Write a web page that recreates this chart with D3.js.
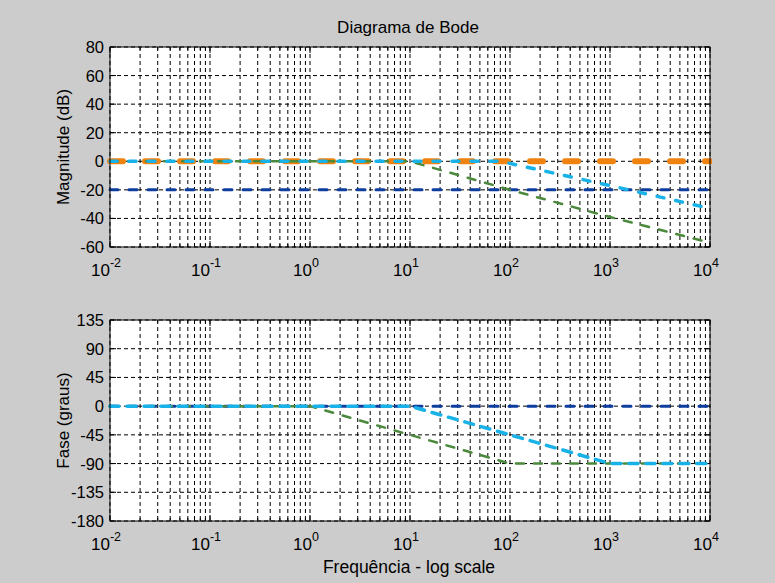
<!DOCTYPE html>
<html>
<head>
<meta charset="utf-8">
<script src="https://cdn.jsdelivr.net/npm/d3@7"></script>
<style>
  body { margin: 0; background: #cccccc; }
  text { font-family: "Liberation Sans", Arial, sans-serif; fill: #000; }
</style>
</head>
<body>
<svg width="775" height="583"></svg>
<script>
// frequency decades shown on the x axis
const decades = [-2, -1, 0, 1, 2, 3, 4];
const magTicks = [-60, -40, -20, 0, 20, 40, 60, 80];
const phaseTicks = [-180, -135, -90, -45, 0, 45, 90, 135];

// asymptotic bode curves, [freq, value]
const magOrange = [[0.01, 0], [10000, 0]];
const magDarkBlue = [[0.01, -20], [10000, -20]];
const magGreen = [[0.01, 0], [10, 0], [100, -20], [1000, -39], [10000, -57]];
const magLightBlue = [[0.01, 0], [80, 0], [1000, -17], [10000, -33]];

const phaseGreen = [[0.01, 0], [1, 0], [100, -90], [10000, -90]];
const phaseLightBlue = [[0.01, 0], [10, 0], [1000, -90], [10000, -90]];
const phaseDarkBlue = [[0.01, 0], [10000, 0]];

const svg = d3.select('svg');
const x = d3.scaleLog().domain([1e-2, 1e4]).range([110, 710]);

const minorTicks = [];
decades.slice(0, -1).forEach(e => {
  for (let k = 2; k <= 9; k++) minorTicks.push(k * Math.pow(10, e));
});

function panel(y, yTicks, series, yLabel) {
  const [y0, y1] = y.range();
  const g = svg.append('g');
  const clipId = 'clip' + y0;
  svg.append('clipPath').attr('id', clipId)
    .append('rect').attr('x', 106).attr('y', y1 - 4).attr('width', 606).attr('height', y0 - y1 + 8);

  g.append('rect')
    .attr('x', 110).attr('y', y1)
    .attr('width', 600).attr('height', y0 - y1)
    .attr('fill', '#fff');

  // grid
  const allX = decades.map(e => Math.pow(10, e)).concat(minorTicks);
  g.selectAll('.vgrid')
    .data(allX)
    .enter().append('line')
      .attr('x1', d => x(d)).attr('x2', d => x(d))
      .attr('y1', y1).attr('y2', y0)
      .attr('stroke', '#000')
      .attr('stroke-width', 1)
      .attr('stroke-dasharray', '4,3');
  g.selectAll('.hgrid')
    .data(yTicks)
    .enter().append('line')
      .attr('x1', 110).attr('x2', 710)
      .attr('y1', d => y(d)).attr('y2', d => y(d))
      .attr('stroke', '#000')
      .attr('stroke-width', 1)
      .attr('stroke-dasharray', '4,3');

  // ticks inside the box
  const tickLen = d => (minorTicks.includes(d) ? 3 : 6);
  g.selectAll('.xt')
    .data(allX)
    .enter().append('path')
      .attr('d', d => `M${x(d)},${y0}v${-tickLen(d)}M${x(d)},${y1}v${tickLen(d)}`)
      .attr('stroke', '#000');
  g.selectAll('.yt')
    .data(yTicks)
    .enter().append('path')
      .attr('d', d => `M110,${y(d)}h6M710,${y(d)}h-6`)
      .attr('stroke', '#000');

  const line = d3.line().x(d => x(d[0])).y(d => y(d[1]));
  series.forEach(s => {
    g.append('path')
      .datum(s.data)
      .attr('clip-path', `url(#${clipId})`)
      .attr('d', line)
      .attr('fill', 'none')
      .attr('stroke', s.color)
      .attr('stroke-width', s.width)
      .attr('stroke-linecap', 'round')
      .attr('stroke-dasharray', s.dash);
  });

  g.append('rect')
    .attr('x', 110).attr('y', y1)
    .attr('width', 600).attr('height', y0 - y1)
    .attr('fill', 'none')
    .attr('stroke', '#000');

  // labels
  g.selectAll('.yl')
    .data(yTicks)
    .enter().append('text')
      .attr('x', 104).attr('y', d => y(d) + 6)
      .attr('text-anchor', 'end')
      .attr('font-size', 16.5)
      .text(d => d);

  const xl = g.selectAll('.xl')
    .data(decades)
    .enter().append('text')
      .attr('x', d => x(Math.pow(10, d)) - 4)
      .attr('y', y0 + 29)
      .attr('text-anchor', 'middle')
      .attr('font-size', 17);
  xl.append('tspan').text('10');
  xl.append('tspan')
    .attr('dy', -9).attr('font-size', 12.5)
    .text(d => d);

  g.append('text')
    .attr('transform', `translate(69,${(y0 + y1) / 2}) rotate(-90)`)
    .attr('text-anchor', 'middle')
    .attr('font-size', 17)
    .text(yLabel);
}

const yMag = d3.scaleLinear().domain([-60, 80]).range([247, 47]);
const yPhase = d3.scaleLinear().domain([-180, 135]).range([521, 320]);

panel(yMag, magTicks, [
  {data: magOrange, color: '#f0820f', width: 6, dash: '13,22'},
  {data: magDarkBlue, color: '#0d3d9e', width: 3, dash: '8,11'},
  {data: magGreen, color: '#4b8a3c', width: 2.5, dash: '8,10'},
  {data: magLightBlue, color: '#18b2e8', width: 3.5, dash: '7,12'}
], 'Magnitude (dB)');

panel(yPhase, phaseTicks, [
  {data: phaseDarkBlue, color: '#0d3d9e', width: 3, dash: '8,11'},
  {data: phaseGreen, color: '#4b8a3c', width: 2.5, dash: '8,10'},
  {data: phaseLightBlue, color: '#18b2e8', width: 3.5, dash: '9,8'}
], 'Fase (graus)');

svg.append('text')
  .attr('x', 408).attr('y', 33)
  .attr('text-anchor', 'middle')
  .attr('font-size', 17)
  .text('Diagrama de Bode');

svg.append('text')
  .attr('x', 409).attr('y', 573)
  .attr('text-anchor', 'middle')
  .attr('font-size', 17.5)
  .text('Frequência - log scale');
</script>
</body>
</html>
